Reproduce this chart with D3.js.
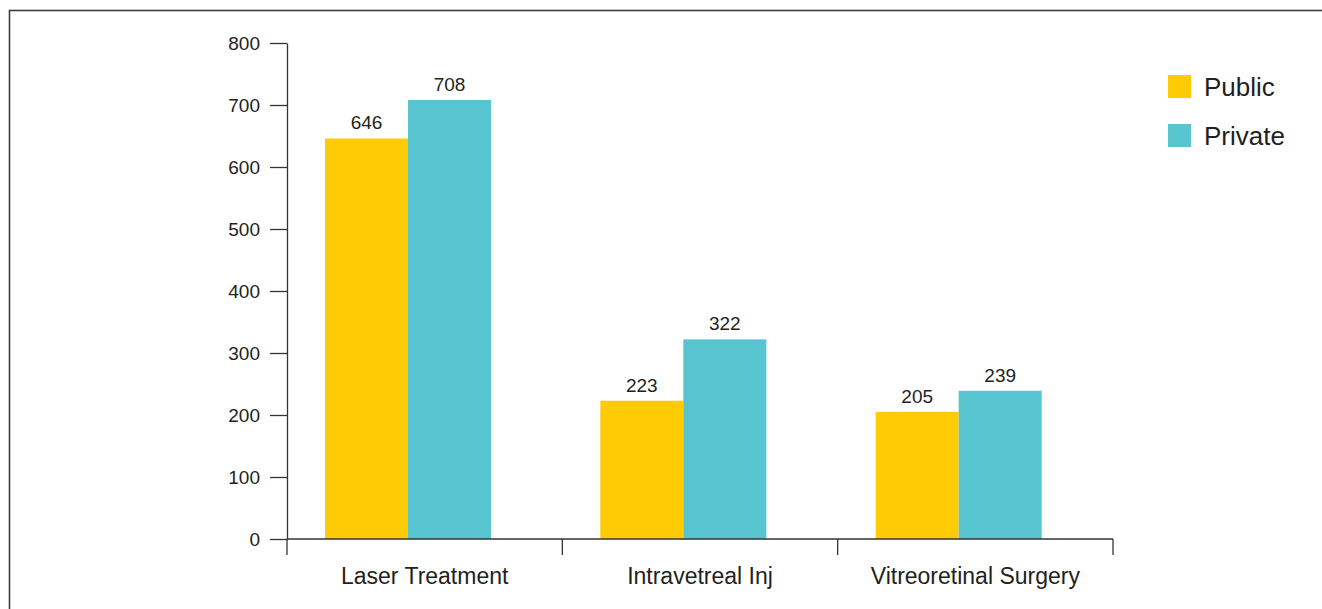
<!DOCTYPE html>
<html>
<head>
<meta charset="utf-8">
<script src="https://cdn.jsdelivr.net/npm/d3@7"></script>
<style>
  html, body { margin: 0; padding: 0; background: #fff; }
  svg { display: block; font-family: "Liberation Sans", Arial, sans-serif; }
</style>
</head>
<body>
<svg id="chart" width="1322" height="609"></svg>
<script>
const categories = ["Laser Treatment", "Intravetreal Inj", "Vitreoretinal Surgery"];
const seriesNames = ["Public", "Private"];
const publicValues = [646, 223, 205];
const privateValues = [708, 322, 239];
const yTicks = [0, 100, 200, 300, 400, 500, 600, 700, 800];
const colors = ["#FFCB05", "#57C5CF"];

(function () {
const svg = d3.select("#chart");
const textColor = "#231f20";
const axisColor = "#333";

// frame
svg.append("rect")
  .attr("x", 9.5).attr("y", 10.5)
  .attr("width", 1400).attr("height", 700)
  .attr("fill", "none").attr("stroke", "#3c3c3c").attr("stroke-width", 1.6);

const plotLeft = 287, plotRight = 1113, plotTop = 43, plotBottom = 539;

const x = d3.scaleBand().domain(categories).range([plotLeft, plotRight]).padding(0);
const inner = d3.scaleBand().domain(seriesNames).range([38, 38 + 166]).padding(0);
const y = d3.scaleLinear().domain([0, 800]).range([plotBottom, plotTop]);

const series = [publicValues, privateValues];

// bars
const g = svg.append("g");
categories.forEach((c, ci) => {
  seriesNames.forEach((s, si) => {
    const v = series[si][ci];
    g.append("rect")
      .attr("x", x(c) + inner(s))
      .attr("y", y(v))
      .attr("width", inner.bandwidth())
      .attr("height", y(0) - y(v))
      .attr("fill", colors[si]);
    g.append("text")
      .attr("x", x(c) + inner(s) + inner.bandwidth() / 2)
      .attr("y", y(v) - 9)
      .attr("text-anchor", "middle")
      .attr("font-size", 19)
      .attr("fill", textColor)
      .text(v);
  });
});

// y axis
const yAxis = d3.axisLeft(y).tickValues(yTicks).tickSize(17).tickSizeOuter(0).tickPadding(10);
const ya = svg.append("g").attr("transform", `translate(${plotLeft},0)`).call(yAxis);
ya.select(".domain").attr("stroke", axisColor).attr("stroke-width", 1.3);
ya.selectAll(".tick line").attr("stroke", axisColor).attr("stroke-width", 1.3);
ya.selectAll(".tick text").attr("font-size", 19).attr("fill", textColor)
  .attr("font-family", "Liberation Sans, Arial, sans-serif");

// x axis line
svg.append("line")
  .attr("x1", plotLeft).attr("x2", plotRight)
  .attr("y1", y(0)).attr("y2", y(0))
  .attr("stroke", axisColor).attr("stroke-width", 1.3);

// category boundary ticks
const bounds = categories.map(c => x(c)).concat([x(categories[categories.length - 1]) + x.bandwidth()]);
svg.selectAll("line.xtick").data(bounds).enter().append("line")
  .attr("class", "xtick")
  .attr("x1", d => d).attr("x2", d => d)
  .attr("y1", y(0)).attr("y2", y(0) + 16)
  .attr("stroke", axisColor).attr("stroke-width", 1.3);

// category labels
svg.selectAll("text.cat").data(categories).enter().append("text")
  .attr("class", "cat")
  .attr("x", d => x(d) + x.bandwidth() / 2)
  .attr("y", 584)
  .attr("text-anchor", "middle")
  .attr("font-size", 23)
  .attr("fill", textColor)
  .text(d => d);

// legend
const legend = svg.append("g").attr("transform", "translate(1168,75)");
seriesNames.forEach((s, i) => {
  const lg = legend.append("g").attr("transform", `translate(0,${i * 49})`);
  lg.append("rect").attr("width", 23).attr("height", 23).attr("fill", colors[i]);
  lg.append("text").attr("x", 36).attr("y", 11.5).attr("dy", "0.35em")
    .attr("font-size", 26).attr("fill", textColor).text(s);
});
})();
</script>
</body>
</html>
